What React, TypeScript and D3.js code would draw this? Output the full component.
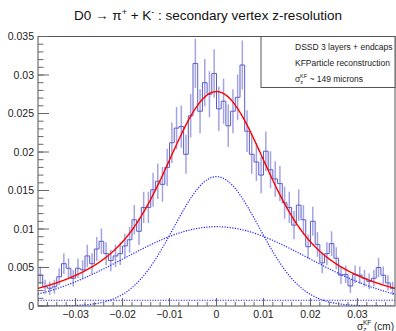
import React from 'react';
import * as d3 from 'd3';

const W = 396;
const H = 331;

// histogram binning
const xMin = -0.038;
const xMax = 0.038;
const nBins = 76;

// bin contents
const counts = [
  0.0040, 0.0025, 0.0023, 0.0025, 0.0038, 0.0055, 0.0049, 0.0036, 0.0049, 0.0047,
  0.0065, 0.0055, 0.0074, 0.0084, 0.0068, 0.0059, 0.0065, 0.0068, 0.0078, 0.0086,
  0.0112, 0.0097, 0.0128, 0.0128, 0.0151, 0.0162, 0.0158, 0.0180, 0.0212, 0.0231,
  0.0233, 0.0197, 0.0247, 0.0315, 0.0253, 0.0290, 0.0275, 0.0302, 0.0256, 0.0266,
  0.0234, 0.0253, 0.0271, 0.0313, 0.0227, 0.0197, 0.0187, 0.0170, 0.0201, 0.0177,
  0.0165, 0.0159, 0.0134, 0.0128, 0.0105, 0.0131, 0.0112, 0.0077, 0.0110, 0.0080,
  0.0056, 0.0068, 0.0081, 0.0062, 0.0040, 0.0041, 0.0026, 0.0041, 0.0040, 0.0036,
  0.0032, 0.0036, 0.0050, 0.0040, 0.0030, 0.0023,
];
// Poisson-like error scale
const errScale = 0.018;

// fit components
const narrowAmp = 0.0168;
const narrowSigma = 0.0091;
const wideAmp = 0.0103;
const wideSigma = 0.0195;
const fitMean = 0;
const constLevel = 0.00075;

// axes
const yMax = 0.035;
const xMajorTicks = [-0.03, -0.02, -0.01, 0, 0.01, 0.02, 0.03];
const xTickLabels = ['\u22120.03', '\u22120.02', '\u22120.01', '0', '0.01', '0.02', '0.03'];
const yMajorTicks = [0, 0.005, 0.01, 0.015, 0.02, 0.025, 0.03, 0.035];
const yTickLabels = ['0', '0.005', '0.01', '0.015', '0.02', '0.025', '0.03', '0.035'];

const legendLines = ['DSSD 3 layers + endcaps', 'KFParticle reconstruction'];

const FONT = '"Liberation Sans", Arial, Helvetica, sans-serif';

const L = 38, R = 395, T = 36.5, B = 306;

export default function App() {
  const x = d3.scaleLinear().domain([xMin, xMax]).range([L, R]);
  const y = d3.scaleLinear().domain([0, yMax]).range([B, T]);
  const bw = (xMax - xMin) / nBins;

  const stepPts: [number, number][] = counts.map((v, i) => [xMin + i * bw, v]);
  stepPts.push([xMax, counts[counts.length - 1]]);
  const stepLine = d3
    .line<[number, number]>()
    .x((d) => x(d[0]))
    .y((d) => y(d[1]))
    .curve(d3.curveStepAfter);

  const gauss = (xv: number, a: number, s: number) =>
    a * Math.exp(-((xv - fitMean) ** 2) / (2 * s * s));
  const xs = d3.range(0, 401).map((i) => xMin + (i / 400) * (xMax - xMin));
  const fn = d3
    .line<number[]>()
    .x((d) => x(d[0]))
    .y((d) => y(d[1]));
  const totalPath = fn(
    xs.map((v) => [v, gauss(v, narrowAmp, narrowSigma) + gauss(v, wideAmp, wideSigma) + constLevel])
  );
  const narrowPath = fn(xs.map((v) => [v, gauss(v, narrowAmp, narrowSigma)]));
  const widePath = fn(xs.map((v) => [v, gauss(v, wideAmp, wideSigma)]));
  const constPath = fn(xs.map((v) => [v, constLevel]));

  const xMinor = d3.range(-0.036, 0.0361, 0.002);
  const yMinor = d3.range(0, 0.03501, 0.001);

  return (
    <svg
      width={W}
      height={H}
      style={{ position: 'absolute', left: 0, top: 0, background: '#fff' }}
      fontFamily={FONT}
    >
      <rect x={0} y={0} width={W} height={H} fill="#fff" />
      <defs>
        <clipPath id="frame">
          <rect x={L} y={T} width={R - L} height={B - T} />
        </clipPath>
      </defs>

      {/* title */}
      <text x={208} y={20} fontSize={13.5} textAnchor="middle" fill="#111">
        D0 {'\u2192'} {'\u03C0'}
        <tspan fontSize={9} dy={-5}>+</tspan>
        <tspan dy={5}> + K</tspan>
        <tspan fontSize={9} dy={-5}>-</tspan>
        <tspan dy={5}> : secondary vertex z-resolution</tspan>
      </text>

      <g clipPath="url(#frame)">
        {/* error bars */}
        {counts.map((v, i) => {
          const e = errScale * Math.sqrt(v);
          const xc = x(xMin + (i + 0.5) * bw);
          return (
            <line
              key={i}
              x1={xc}
              x2={xc}
              y1={y(v - e)}
              y2={y(v + e)}
              stroke="#a4a4e2"
              strokeWidth={1.5}
            />
          );
        })}
        {/* histogram steps */}
        <path d={stepLine(stepPts) || ''} fill="none" stroke="#5c5cc8" strokeWidth={1} />
        {/* fit components */}
        <path d={constPath || ''} fill="none" stroke="#2222ff" strokeWidth={1.2} strokeDasharray="1.2 1.4" />
        <path d={widePath || ''} fill="none" stroke="#2222ff" strokeWidth={1.2} strokeDasharray="1.2 1.4" />
        <path d={narrowPath || ''} fill="none" stroke="#2222ff" strokeWidth={1.2} strokeDasharray="1.2 1.4" />
        <path d={totalPath || ''} fill="none" stroke="#ff0000" strokeWidth={1.4} />
      </g>

      {/* frame */}
      <rect x={L} y={T} width={R - L} height={B - T} fill="none" stroke="#555" strokeWidth={1} />

      {/* y ticks */}
      {yMinor.map((v, i) => (
        <line key={'ym' + i} x1={L} x2={L + 5.5} y1={y(v)} y2={y(v)} stroke="#666" strokeWidth={1} />
      ))}
      {yMajorTicks.map((v, i) => (
        <g key={'yM' + i}>
          <line x1={L} x2={L + 11} y1={y(v)} y2={y(v)} stroke="#666" strokeWidth={1} />
          <text x={L - 4} y={y(v)} dy="0.35em" fontSize={10.5} textAnchor="end" fill="#222">
            {yTickLabels[i]}
          </text>
        </g>
      ))}

      {/* x ticks */}
      {xMinor.map((v, i) => (
        <line key={'xm' + i} x1={x(v)} x2={x(v)} y1={B} y2={B - 4} stroke="#666" strokeWidth={1} />
      ))}
      {xMajorTicks.map((v, i) => (
        <g key={'xM' + i}>
          <line x1={x(v)} x2={x(v)} y1={B} y2={B - 8} stroke="#666" strokeWidth={1} />
          <text x={x(v)} y={318} fontSize={10.5} textAnchor="middle" fill="#222">
            {xTickLabels[i]}
          </text>
        </g>
      ))}

      {/* x axis title */}
      <text x={394} y={329.5} fontSize={10} textAnchor="end" fill="#222">
        {'\u03C3'}
        <tspan fontSize={6.5} dy={2}>z</tspan>
        <tspan fontSize={6.5} dx={-3.5} dy={-6.5}>KF</tspan>
        <tspan dy={4.5}> (cm)</tspan>
      </text>

      {/* legend */}
      <rect x={261} y={T} width={R - 261} height={51} fill="#fff" stroke="#555" strokeWidth={1} />
      {legendLines.map((t, i) => (
        <text key={'lg' + i} x={295} y={50 + i * 16} fontSize={8.5} fill="#222">
          {t}
        </text>
      ))}
      <text x={295} y={82} fontSize={8.5} fill="#222">
        {'\u03C3'}
        <tspan fontSize={5.5} dy={2}>z</tspan>
        <tspan fontSize={5.5} dx={-3} dy={-6}>KF</tspan>
        <tspan dy={4}> ~ 149 microns</tspan>
      </text>
    </svg>
  );
}
